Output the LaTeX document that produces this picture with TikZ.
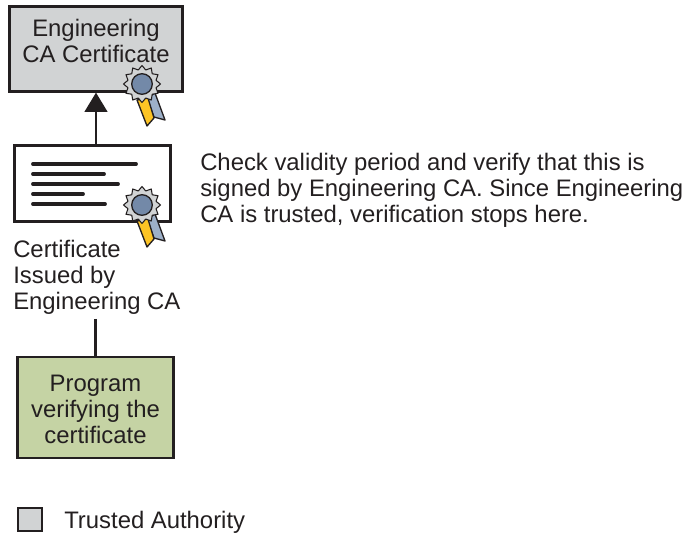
\documentclass[tikz,border=0pt]{standalone}
\usepackage{fontspec}
\setmainfont{Liberation Sans}
\usetikzlibrary{arrows.meta}
\definecolor{ink}{HTML}{231F20}
\definecolor{cagray}{HTML}{D1D3D4}
\definecolor{proggreen}{HTML}{C5D3A4}
\definecolor{sealblue}{HTML}{7389A8}
\definecolor{ribblue}{HTML}{9DB0C8}
\definecolor{ribgold}{HTML}{FDC425}
\tikzset{
  box/.style={draw=ink,line width=1.9pt,inner sep=0pt,align=center,text=ink},
  txt/.style={inner sep=0pt,align=left,text=ink,anchor=base west},
  conn/.style={draw=ink,line width=1.9pt},
  bar/.style={draw=ink,line width=2.9pt,line cap=round},
  seal/.pic={
    \draw[ink,line width=1pt,line join=round,fill=ribblue] (5,14) -- (13,9) -- (23,36) -- (12,33) -- cycle;
    \draw[ink,line width=1pt,line join=round,fill=ribgold] (-5,16) -- (6,14) -- (12,34) -- (5,42) -- cycle;
    \draw[ink,line width=.8pt,line join=round,fill=cagray]
      (0:18.5) \foreach \a in {1,...,12} { -- ({(\a-.5)*30}:14.5) -- ({\a*30}:18.5) } -- cycle;
    \draw[ink,line width=1pt,fill=sealblue] (0,0) circle (10.3);
  }
}
\begin{document}
\begin{tikzpicture}[x=0.75pt,y=-0.75pt,font=\fontsize{17.9pt}{19.5pt}\selectfont]
\useasboundingbox (0,0) rectangle (687,533);
\node[box,fill=cagray,minimum width=129.5pt,minimum height=63.5pt] (top) at (96,49) {};
\node[txt,align=center,anchor=center] (toptext) at (96,40.5) {Engineering\\CA Certificate};
\node[box,fill=white,minimum width=117pt,minimum height=57pt] (cert) at (92.5,183.5) {};
\node[box,fill=proggreen,minimum width=117pt,minimum height=76pt] (prog) at (95.5,407.5) {};
\node[txt,align=center,anchor=center] (progtext) at (95.5,409) {Program\\verifying the\\certificate};
\node[txt,anchor=north west] (label) at (13,240) {Certificate\\Issued by\\Engineering CA};
\node[txt,anchor=north west] (desc) at (200,153) {Check validity period and verify that this is\\signed by Engineering CA. Since Engineering\\CA is trusted, verification stops here.};
\node[box,fill=cagray,minimum width=18pt,minimum height=17.5pt] (legend) at (30,519.5) {};
\node[txt] (legendtext) at (64,528) {Trusted Authority};
\draw[conn,-{Triangle[length=14.5pt,width=17pt]}] (top.south |- cert.north) -- (top.south);
\draw[conn] (prog.north |- label.south) ++(0,4) -- (prog.north);
\foreach \yy/\xx in {164/136,174/104,184/118,194/83,204/105}
  \draw[bar] (33,\yy) -- (\xx,\yy);
\path (142,84) pic {seal};
\path (142,205) pic {seal};
\end{tikzpicture}
\end{document}
